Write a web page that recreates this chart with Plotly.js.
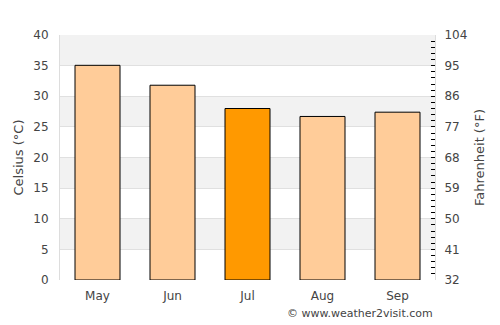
<!DOCTYPE html>
<html>
<head>
<meta charset="utf-8">
<script src="https://cdn.plot.ly/plotly-3.0.1.min.js"></script>
<style>html,body{margin:0;padding:0;background:#fff;}#chart{width:500px;height:325px;}</style>
</head>
<body>
<div id="chart"></div>
<script>
const months = ["May", "Jun", "Jul", "Aug", "Sep"];
const celsius = [35.05, 31.8, 28.0, 26.7, 27.4];
const barColors = ["#ffcc99", "#ffcc99", "#ff9900", "#ffcc99", "#ffcc99"];
const cTicks = [0, 5, 10, 15, 20, 25, 30, 35, 40];
const fTicks = [32, 41, 50, 59, 68, 77, 86, 95, 104];
const bands = [[5, 10], [15, 20], [25, 30], [35, 40]];

const font = "DejaVu Sans, sans-serif";
const txt = "#444";

const traces = [
  {
    type: "bar", x: months, y: celsius,
    marker: {color: barColors, line: {color: "#000", width: 1}},
    width: 0.6, hoverinfo: "skip", showlegend: false
  },
  {
    type: "scatter", x: months, y: celsius.map(c => c * 9 / 5 + 32), yaxis: "y2",
    mode: "markers", marker: {opacity: 0}, hoverinfo: "skip", showlegend: false
  }
];

const shapes = bands.map(b => ({
  type: "rect", xref: "paper", yref: "y", x0: 0, x1: 1, y0: b[0], y1: b[1],
  fillcolor: "#f2f2f2", line: {width: 0}, layer: "below"
}));

const layout = {
  width: 500, height: 325,
  margin: {l: 60, r: 65, t: 35, b: 45},
  paper_bgcolor: "#fff", plot_bgcolor: "#fff",
  font: {family: font, size: 12, color: txt},
  bargap: 0.4,
  xaxis: {
    type: "category", showgrid: false, zeroline: false, showline: false,
    ticks: "outside", ticklen: 5, tickcolor: "rgba(0,0,0,0)",
    tickfont: {family: font, size: 12, color: txt}, fixedrange: true
  },
  yaxis: {
    range: [0, 40], tickvals: cTicks, ticktext: cTicks.map(String),
    showgrid: true, gridcolor: "#e0e0e0", gridwidth: 1, zeroline: false,
    showline: true, linecolor: "#dddddd", linewidth: 1,
    ticks: "outside", ticklen: 8, tickcolor: "rgba(0,0,0,0)",
    tickfont: {family: font, size: 12, color: txt},
    title: {text: "Celsius (°C)", font: {family: font, size: 13, color: txt}, standoff: 6},
    fixedrange: true
  },
  yaxis2: {
    overlaying: "y", side: "right", range: [32, 104],
    tickvals: fTicks, ticktext: fTicks.map(String),
    showgrid: false, zeroline: false,
    showline: true, linecolor: "#dddddd", linewidth: 1,
    ticks: "inside", ticklen: 4, tickcolor: "#000", tickwidth: 1,
    minor: {dtick: 1.8, tick0: 32, ticks: "inside", ticklen: 4, tickcolor: "#000", tickwidth: 1, showgrid: false},
    ticklabelstandoff: 6,
    tickfont: {family: font, size: 12, color: txt},
    title: {text: "Fahrenheit (°F)", font: {family: font, size: 13, color: txt}, standoff: 8},
    fixedrange: true
  },
  shapes: shapes,
  annotations: [{
    text: "© www.weather2visit.com", xref: "paper", yref: "paper",
    x: 1, y: 0, xanchor: "right", yanchor: "middle", yshift: -33, xshift: 0,
    showarrow: false, font: {family: font, size: 11, color: txt}
  }]
};

Plotly.newPlot("chart", traces, layout, {displayModeBar: false, staticPlot: true});
</script>
</body>
</html>
